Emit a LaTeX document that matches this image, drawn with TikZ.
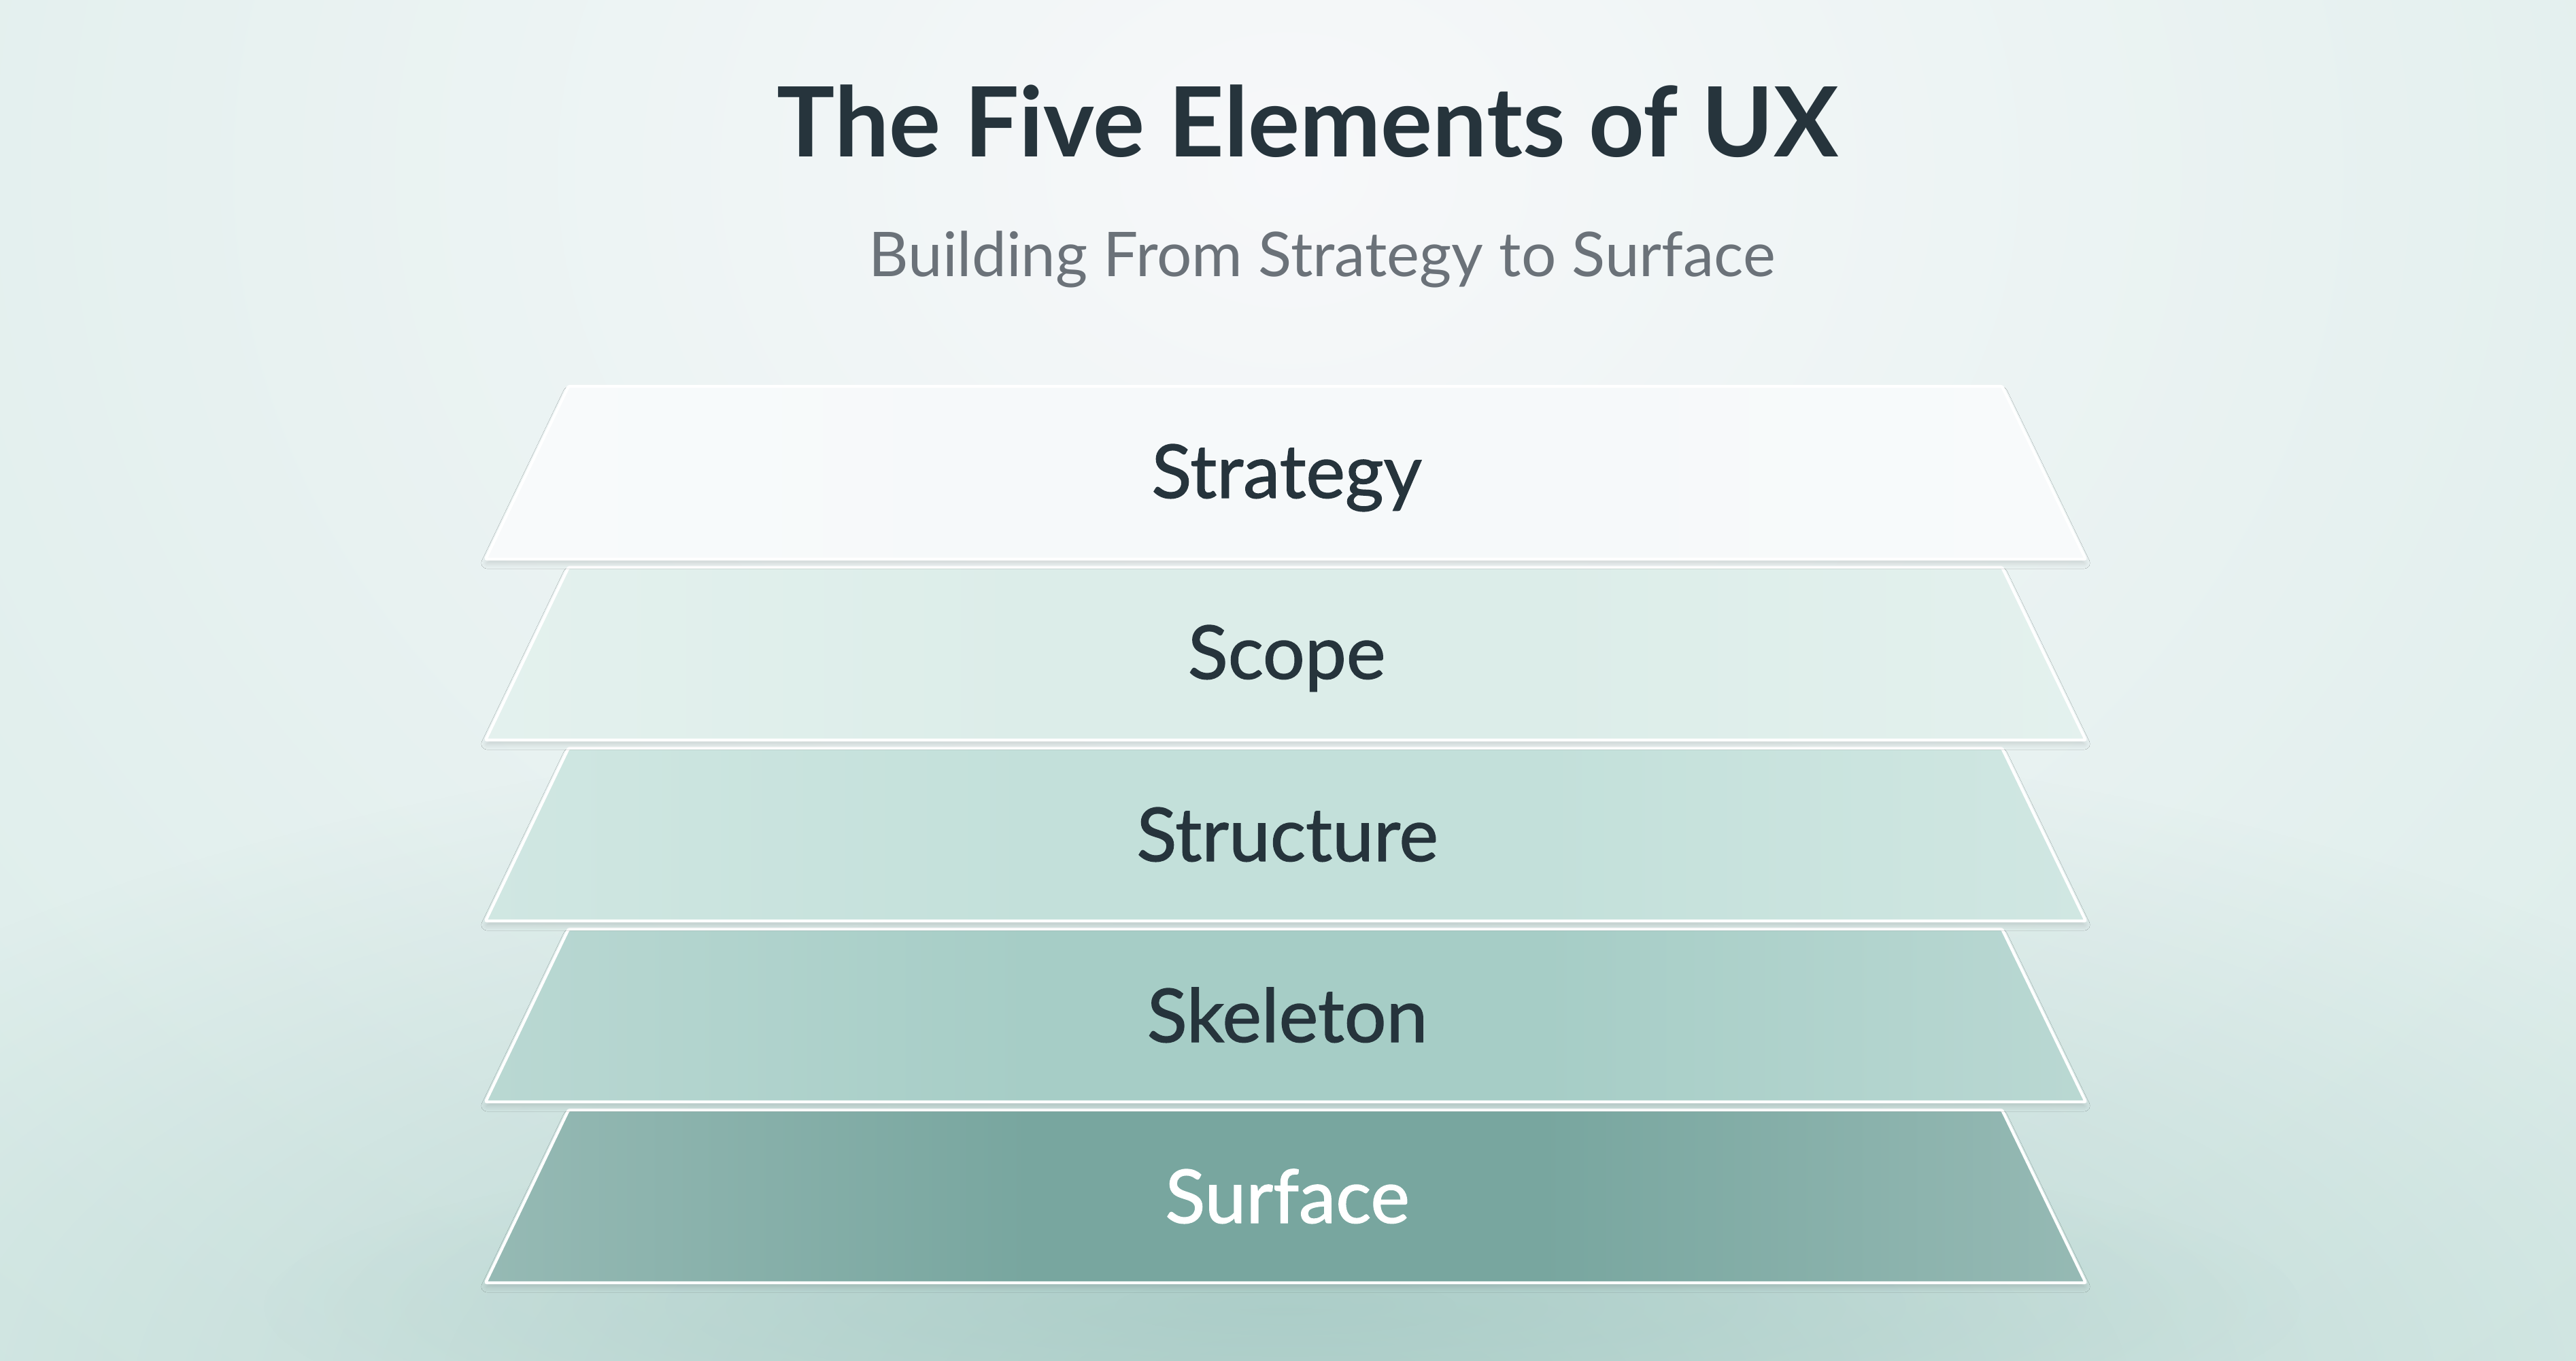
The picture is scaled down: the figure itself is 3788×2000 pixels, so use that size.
\documentclass[tikz,border=0pt]{standalone}
\usepackage{fontspec}
\setmainfont{Lato}
\newfontfamily\labelfont{Lato}[FakeBold=1.2]
\usetikzlibrary{shadows.blur,fadings}
\definecolor{bgA}{HTML}{F7F8FA}
\definecolor{bgB}{HTML}{CCE6E0}
\definecolor{haze}{HTML}{A3C8C2}
\definecolor{inkdark}{HTML}{26343C}
\definecolor{inkgray}{HTML}{6B7279}
\definecolor{layA}{HTML}{F6F9FA}
\definecolor{layB}{HTML}{DCEDE9}
\definecolor{layC}{HTML}{C3E0DA}
\definecolor{layD}{HTML}{A6CDC6}
\definecolor{layE}{HTML}{78A69F}
\colorlet{mainc}{layA}
\colorlet{lightc}{layA}
\pgfdeclarehorizontalshading[mainc,lightc]{glassx}{100bp}{color(0bp)=(lightc); color(25bp)=(lightc); color(42bp)=(mainc); color(58bp)=(mainc); color(75bp)=(lightc); color(100bp)=(lightc)}
\tikzfading[name=softglow, inner color=transparent!0, outer color=transparent!100]
\tikzset{
  layer/.style={draw=white, line width=1.2pt, rounded corners=0.6pt, shading=glassx,
    blur shadow={shadow xshift=0cm, shadow yshift=-0.07cm, shadow blur radius=0.07cm, shadow opacity=12}},
  layerlabel/.style={anchor=base, font=\labelfont\fontsize{31pt}{36pt}\selectfont, text=inkdark},
}
\newcommand\uxlayer[3]{%
  \colorlet{mainc}{#2}\colorlet{lightc}{#2!78!white}%
  \shade[layer] (836,#1) -- (2944,#1) -- (3067,#1+254) -- (714,#1+254) -- cycle;}
\begin{document}
\begin{tikzpicture}[x=0.01cm,y=-0.01cm]
\useasboundingbox (0,0) rectangle (3788,2000);
% background
\begin{scope}
  \clip (0,0) rectangle (3788,2000);
  \fill[bgB] (0,0) rectangle (3788,2000);
  \shade[inner color=bgA, outer color=bgB] (1894,250) ellipse [x radius=4300, y radius=3500];
  \fill[haze, opacity=0.7, path fading=softglow] (1890,2050) ellipse [x radius=2600, y radius=1000];
  \fill[haze, opacity=0.6, path fading=softglow] (1890,1920) ellipse [x radius=1500, y radius=260];
\end{scope}
% title
\node[anchor=base, text=inkdark, font=\bfseries\fontsize{40.5pt}{48pt}\selectfont] (title) at (1923,230) {The Five Elements of UX};
\node[anchor=base, text=inkgray, font=\fontsize{25.8pt}{30pt}\selectfont] (subtitle) at (1944,406) {Building From Strategy to Surface};
% layers (bottom first)
\uxlayer{1632}{layE}{surfacelayer}
\uxlayer{1366}{layD}{skeletonlayer}
\uxlayer{1100}{layC}{structurelayer}
\uxlayer{834}{layB}{scopelayer}
\uxlayer{568}{layA}{strategylayer}
% labels
\node[layerlabel] (strategy) at (1892,732) {Strategy};
\node[layerlabel] (scope) at (1892,998) {Scope};
\node[layerlabel] (structure) at (1893,1266) {Structure};
\node[layerlabel] (skeleton) at (1893,1532) {Skeleton};
\node[layerlabel, text=white] (surface) at (1893,1798) {Surface};
\end{tikzpicture}
\end{document}
